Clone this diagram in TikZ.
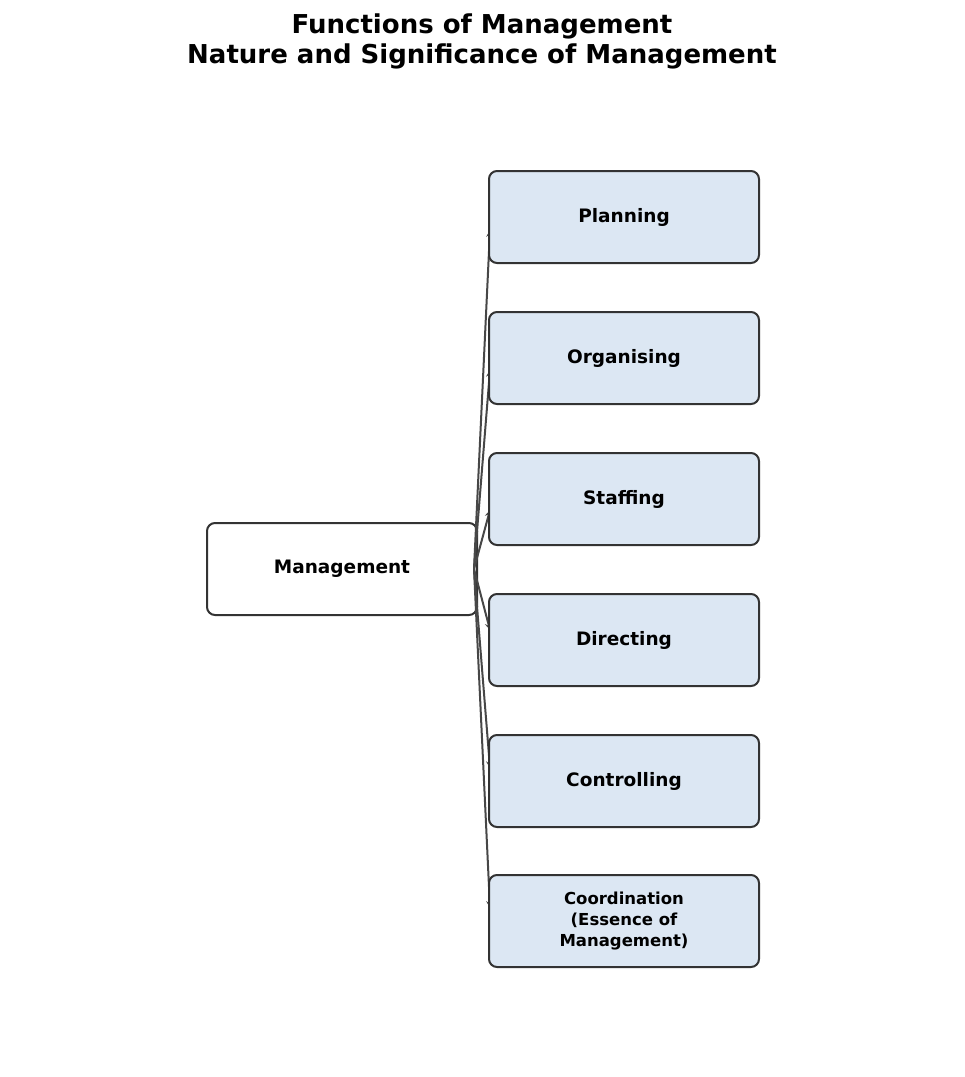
\documentclass[tikz,border=0pt]{standalone}
\usepackage{fontspec}
\setmainfont{DejaVu Sans}
\definecolor{fnfill}{HTML}{DCE7F3}
\definecolor{edge}{HTML}{333333}
\begin{document}
\begin{tikzpicture}[x=1pt,y=-1pt,
  box/.style={draw=edge,line width=2pt,rounded corners=8pt,minimum width=270pt,minimum height=92pt,align=center,font=\bfseries\fontsize{18.5}{22}\selectfont},
  fn/.style={box,fill=fnfill},
  link/.style={draw=edge!90!white,line width=2pt,-stealth}]
\useasboundingbox (0,0) rectangle (965,1077);
\node[font=\bfseries\fontsize{26}{30}\selectfont,align=center] (title) at (482,41) {Functions of Management\\Nature and Significance of Management};
\node[box] (mgmt) at (342,569) {Management};
% links drawn first, boxes on top
\foreach \name/\y in {plan/230,org/370,staff/510,dir/630,ctrl/768,coord/908}
  \draw[link] (474,569) -- (490,\y);
\node[fn] (plan) at (624,217) {Planning};
\node[fn] (org) at (624,358) {Organising};
\node[fn] (staff) at (624,499) {Staffing};
\node[fn] (dir) at (624,640) {Directing};
\node[fn] (ctrl) at (624,781) {Controlling};
\node[fn,font=\bfseries\fontsize{16.5}{21}\selectfont] (coord) at (624,921) {Coordination\\ (Essence of\\Management)};
\end{tikzpicture}
\end{document}
